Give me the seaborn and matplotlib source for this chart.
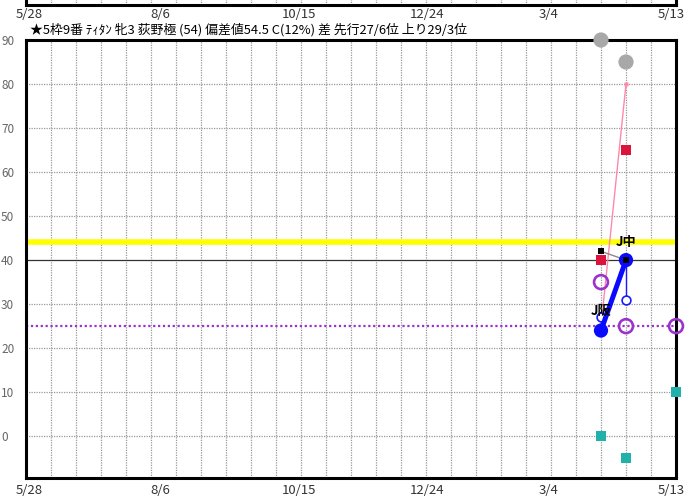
import matplotlib
matplotlib.use("Agg")
import matplotlib.pyplot as plt
import seaborn as sns
import pandas as pd

sns.set_style("white")
plt.rcParams['font.family'] = ['Noto Sans CJK JP', 'DejaVu Sans']

# ---------------- data ----------------
title = "★5枠9番 ﾃｨﾀﾝ 牝3 荻野極 (54) 偏差値54.5 C(12%) 差 先行27/6位 上り29/3位"
date_labels = ["5/28", "8/6", "10/15", "12/24", "3/4", "5/13"]
date_pos = [0.12, 5.36, 10.92, 16.04, 20.92, 25.8]
y_ticks = [0, 10, 20, 30, 40, 50, 60, 70, 80, 90]

race_x = [23, 24]
race_labels = ["J阪", "J中"]
gray_vals = [90, 85]
pink_vals = [25, 80]
crimson_vals = [40, 65]
black_vals = [42, 40]
blue_vals = [24, 40]
blue_small_vals = [27, 31]
purple_x = [23, 24, 26]
purple_vals = [35, 25, 25]
teal_x = [23, 24, 26]
teal_vals = [0, -5, 10]
yellow_level = 44.2
purple_level = 25
black_level = 40

df = pd.DataFrame({"x": race_x, "gray": gray_vals, "pink": pink_vals,
                   "crimson": crimson_vals, "black": black_vals,
                   "blue": blue_vals, "blue_small": blue_small_vals})
dp = pd.DataFrame({"x": purple_x, "v": purple_vals})
dt = pd.DataFrame({"x": teal_x, "v": teal_vals})

# ---------------- figure ----------------
W, H = 687, 499
fig = plt.figure(figsize=(W / 100, H / 100), dpi=100)
L, R, T, B = 26, 676, 40, 478
ax = fig.add_axes([L / W, 1 - B / H, (R - L) / W, (B - T) / H])
ax.set_xlim(0, 26)
ax.set_ylim(-9.5, 90)

grid_kw = dict(color="#999999", lw=0.9, ls=(0, (1, 1)))
for gx in range(1, 26):
    ax.axvline(gx, zorder=0, **grid_kw)
for gy in y_ticks[:-1]:
    if gy == black_level:
        continue
    ax.axhline(gy, zorder=0, **grid_kw)

ax.axhline(yellow_level, color="#FFFF00", lw=4.0, zorder=1)
ax.axhline(black_level, color="#333333", lw=0.9, zorder=1)
ax.axhline(purple_level, color="#9933CC", lw=1.6, ls=(0, (1, 1.2)), zorder=1)

# gray big circles
sns.scatterplot(data=df, x="x", y="gray", ax=ax, s=120, color="#A8A8A8",
                edgecolor="none", zorder=9, legend=False, clip_on=False)
# pink line
sns.lineplot(data=df, x="x", y="pink", ax=ax, color="#FF88AA", lw=1.0,
             marker="s", markersize=3.5, markeredgecolor="none", zorder=3, legend=False)
# crimson squares
sns.scatterplot(data=df, x="x", y="crimson", ax=ax, s=55, marker="s",
                color="#DC143C", edgecolor="none", zorder=4, legend=False)
# black squares with gray line
sns.lineplot(data=df, x="x", y="black", ax=ax, color="#8a8a8a", lw=1.0, zorder=4, legend=False)
sns.scatterplot(data=df, x="x", y="black", ax=ax, s=20, marker="s",
                color="black", edgecolor="none", zorder=7, legend=False)
# thin blue stems to small hollow circles
for xv, a, b in zip(race_x, blue_vals, blue_small_vals):
    ax.plot([xv, xv], [a, b], color="#1a1aff", lw=1.0, zorder=4)
sns.scatterplot(data=df, x="x", y="blue_small", ax=ax, s=40, marker="o",
                facecolor="white", edgecolor="#1a1aff", linewidth=1.2, zorder=5, legend=False)
# thick blue line and dots
sns.lineplot(data=df, x="x", y="blue", ax=ax, color="#0a0aff", lw=3.6, zorder=6, legend=False)
sns.scatterplot(data=df, x="x", y="blue", ax=ax, s=105, color="#0a0aff",
                edgecolor="none", zorder=6, legend=False)
# purple hollow circles
sns.scatterplot(data=dp, x="x", y="v", ax=ax, s=100, marker="o", facecolor="none",
                edgecolor="#9933CC", linewidth=1.9, zorder=9, legend=False, clip_on=False)
# teal squares
sns.scatterplot(data=dt, x="x", y="v", ax=ax, s=55, marker="s", color="#20B2AA",
                edgecolor="none", zorder=9, legend=False, clip_on=False)

# race labels
ax.text(race_x[1], black_vals[1] + 2.6, race_labels[1], ha="center", va="bottom",
        fontsize=9.5, fontweight="bold", color="black", zorder=10)
ax.text(race_x[0], blue_small_vals[0] + 1.4, race_labels[0], ha="center", va="center",
        fontsize=9.5, fontweight="bold", color="black", zorder=10)

# axes cosmetics
ax.set_xlabel("")
ax.set_ylabel("")
for sp in ax.spines.values():
    sp.set_visible(True)
    sp.set_linewidth(2.2)
    sp.set_color("black")
    sp.set_zorder(8)
ax.set_yticks(y_ticks)
ax.set_yticklabels([str(v) for v in y_ticks])
ax.tick_params(axis="y", length=0, pad=18, labelsize=8.5, labelcolor="#666666")
for lab in ax.get_yticklabels():
    lab.set_horizontalalignment("left")
ax.set_xticks(date_pos)
ax.set_xticklabels(date_labels)
ax.tick_params(axis="x", length=0, pad=4, labelsize=9.5, labelcolor="#333333")

sec = ax.secondary_xaxis("top")
sec.set_xticks(date_pos)
sec.set_xticklabels(date_labels)
sec.tick_params(length=0, pad=14, labelsize=9.5, labelcolor="#333333")
sec.spines["top"].set_visible(False)

fig.text(30 / W, 1 - 30 / H, title, ha="left", va="center", fontsize=9.3, color="black")

# bottom edge of the previous chart at the very top
ax0 = fig.add_axes([L / W, 1 - 5 / H, (R - L) / W, 0.03])
ax0.set_xlim(0, 26)
ax0.set_ylim(0, 1)
for gx in range(1, 26):
    ax0.axvline(gx, **grid_kw)
ax0.set_xticks([])
ax0.set_yticks([])
for k, sp in ax0.spines.items():
    sp.set_linewidth(2.2)
    sp.set_color("black")
ax0.spines["top"].set_visible(False)

fig.savefig("out.png", dpi=100)
